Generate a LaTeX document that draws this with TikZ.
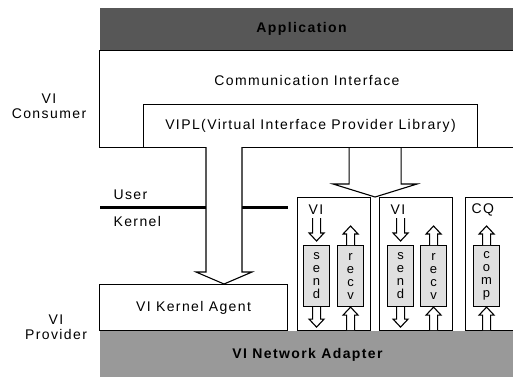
\documentclass[tikz,border=0pt]{standalone}
\usepackage{fontspec}
\setmainfont{Liberation Sans}[LetterSpace=10]
\usetikzlibrary{positioning,calc}

% hollow vertical block arrow: from, tip, shaft half width, head half width, head length
\newcommand{\blockarrow}[5]{%
  \draw[fill=white, line width=1.1pt, line join=miter] let \p1=(#1), \p2=(#2), \n1={sign(\y2-\y1)*(#5)} in
    ({\x1-#3},\y1) -- ({\x1-#3},{\y2-\n1}) -- ({\x1-#4},{\y2-\n1}) -- (\x1,\y2)
    -- ({\x1+#4},{\y2-\n1}) -- ({\x1+#3},{\y2-\n1}) -- ({\x1+#3},\y1);}

\begin{document}
\begin{tikzpicture}[x=1pt, y=-1pt, font=\fontsize{14}{15}\selectfont,
    box/.style={draw, line width=1.1pt, anchor=north west, inner sep=0pt},
    band/.style={box, draw=none, fill=black!50, font=\fontsize{14}{15}\selectfont\bfseries},
    queue/.style={box, fill=black!12, minimum width=26pt, minimum height=61pt,
      align=center, font=\fontsize{13}{13}\selectfont},
    vibox/.style={box, minimum width=73pt, minimum height=133pt}]
  \useasboundingbox (0,0) rectangle (513,376);

  % user level
  \node[band, fill=black!66, minimum width=416pt, minimum height=43pt] (app) at (99,7) {\hspace*{-12pt}Application};
  \node[box, minimum width=416pt, minimum height=97pt] (cons) at (99,50) {};
  \node (ci) at (307,80) {Communication Interface};
  \node[box, minimum width=334pt, minimum height=43pt] (vipl) at (143,104) {VIPL(Virtual Interface Provider Library)};
  \node[align=center] (consumer) at (49,106) {VI\\Consumer};

  % kernel level
  \node[box, minimum width=188pt, minimum height=46pt] (kagent) at (99,284) {VI Kernel Agent};
  \node[band, fill=black!40, minimum width=416pt, minimum height=48pt] (adapt) at (99,330) {VI Network Adapter};
  \node[align=center] (provider) at (56,327) {VI\\Provider};

  \coordinate (uk) at (100,207);
  \draw[line width=3pt] (uk) -- (uk -| kagent.east);
  \node[anchor=west] (user) at (110,195) {User};
  \node[anchor=west] (kernel) at (110,221) {Kernel};

  % VIs and completion queue
  \node[vibox] (vi1) at (297,197) {};
  \node[vibox] (vi2) at (379,197) {};
  \node[vibox, minimum width=50pt] (cq) at (465,197) {};
  \node[anchor=west] (vi1lbl) at (305,210) {VI};
  \node[anchor=west] (vi2lbl) at (387,210) {VI};
  \node[anchor=west] (cqlbl) at (468,210) {CQ};

  \node[queue] (send1) at (303,245) {s\\e\\n\\d};
  \node[queue] (recv1) at (337,245) {r\\e\\c\\v};
  \node[queue] (send2) at (387,245) {s\\e\\n\\d};
  \node[queue] (recv2) at (420,245) {r\\e\\c\\v};
  \node[queue] (comp) at (473,245) {c\\o\\m\\p};

  \foreach \q in {send1,send2} {
    \blockarrow{$(\q.north)+(0,-27)$}{$(\q.north)+(0,-4)$}{4pt}{7.5pt}{8pt}
    \blockarrow{\q.south}{$(\q.south)+(0,20)$}{4pt}{7.5pt}{8pt}
  }
  \foreach \q in {recv1,recv2,comp} {
    \blockarrow{\q.north}{$(\q.north)+(0,-19)$}{4pt}{7.5pt}{8pt}
    \blockarrow{\q.south |- adapt.north}{\q.south}{4pt}{7.5pt}{8pt}
  }

  % big arrows out of the VIPL
  \coordinate (down1) at (224,147);
  \blockarrow{down1}{down1 |- kagent.north}{18pt}{28pt}{12pt}
  \coordinate (down2) at ($(vi1.north east)!.5!(vi2.north west)$);
  \blockarrow{down2 |- vipl.south}{down2}{26pt}{42pt}{13pt}
\end{tikzpicture}
\end{document}
